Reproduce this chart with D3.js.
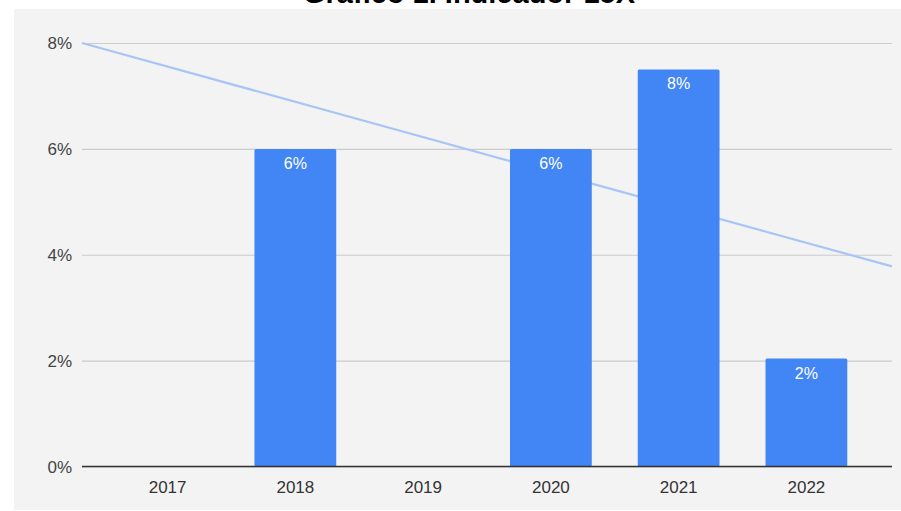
<!DOCTYPE html>
<html>
<head>
<meta charset="utf-8">
<script src="https://cdn.jsdelivr.net/npm/d3@7"></script>
<style>
  html, body { margin: 0; padding: 0; background: #ffffff; }
  svg { display: block; }
</style>
</head>
<body>
<svg id="chart" width="901" height="511"></svg>
<script>
// Indicator values per year (percent); 2017 and 2019 have no value
const years = ["2017", "2018", "2019", "2020", "2021", "2022"];
const values = [null, 6.0, null, 6.0, 7.5, 2.04];
const valueLabels = ["", "6%", "", "6%", "8%", "2%"];
// Trend line value at the left and right ends of the plot
const trendEnds = [8.0, 3.78];
const yTicks = [0, 2, 4, 6, 8];
const title = "Gráfico 1. Indicador 15X";

const W = 901, H = 511;
const plot = { left: 82, right: 892, top: 43, bottom: 466.5 };
const svg = d3.select("#chart");
const font = "'Liberation Sans', Arial, Helvetica, sans-serif";

// Chart background panel
svg.append("rect")
  .attr("x", 14).attr("y", 9)
  .attr("width", W - 14).attr("height", H - 9 - 1)
  .attr("fill", "#f3f3f3");

// Title (sits above the panel, partly outside the page)
svg.append("text")
  .attr("x", 469).attr("y", 3)
  .attr("text-anchor", "middle")
  .attr("font-family", font)
  .attr("font-weight", "bold")
  .attr("font-size", 29)
  .attr("fill", "#000")
  .text(title);

const x = d3.scaleBand()
  .domain(years)
  .range([plot.left, plot.right])
  .paddingInner(0.36)
  .paddingOuter(0.35);

const y = d3.scaleLinear()
  .domain([0, 8])
  .range([plot.bottom, plot.top]);

// Horizontal gridlines and percent labels
const yAxis = d3.axisLeft(y)
  .tickValues(yTicks)
  .tickFormat(d => d + "%")
  .tickSize(-(plot.right - plot.left))
  .tickPadding(10);

const gy = svg.append("g")
  .attr("transform", `translate(${plot.left},0)`)
  .call(yAxis);
gy.select(".domain").remove();
gy.selectAll(".tick line").attr("stroke", "#cccccc").attr("stroke-width", 1.2);
gy.selectAll(".tick text")
  .attr("font-family", font)
  .attr("font-size", 17)
  .attr("fill", "#444")
  .attr("dy", "0.35em");

// Trend line (behind the bars)
const tx = d3.scaleLinear().domain([0, 1]).range([plot.left, plot.right]);
const trend = trendEnds.map((v, i) => [tx(i), y(v)]);
svg.append("path")
  .attr("d", d3.line()(trend))
  .attr("fill", "none")
  .attr("stroke", "#a8c5f6")
  .attr("stroke-width", 2.2);

// Bars
const data = years.map((yr, i) => ({ year: yr, value: values[i], label: valueLabels[i] }))
  .filter(d => d.value != null);

svg.append("g").selectAll("rect")
  .data(data)
  .join("rect")
  .attr("x", d => x(d.year))
  .attr("y", d => y(d.value))
  .attr("width", x.bandwidth())
  .attr("height", d => y(0) - y(d.value))
  .attr("rx", 1.5)
  .attr("fill", "#4285f4");

// Value labels inside bar tops
svg.append("g").selectAll("text")
  .data(data)
  .join("text")
  .attr("x", d => x(d.year) + x.bandwidth() / 2)
  .attr("y", d => y(d.value) + 20)
  .attr("text-anchor", "middle")
  .attr("font-family", font)
  .attr("font-size", 16)
  .attr("fill", "#ffffff")
  .text(d => d.label);

// Baseline and year labels
const xAxis = d3.axisBottom(x).tickSize(0).tickPadding(10);
const gx = svg.append("g")
  .attr("transform", `translate(0,${y(0)})`)
  .call(xAxis);
gx.select(".domain").remove();
gx.selectAll(".tick text")
  .attr("font-family", font)
  .attr("font-size", 17)
  .attr("fill", "#333")
  .attr("dy", "0.95em");

svg.append("line")
  .attr("x1", plot.left).attr("x2", plot.right)
  .attr("y1", y(0)).attr("y2", y(0))
  .attr("stroke", "#333").attr("stroke-width", 1.5);
</script>
</body>
</html>
